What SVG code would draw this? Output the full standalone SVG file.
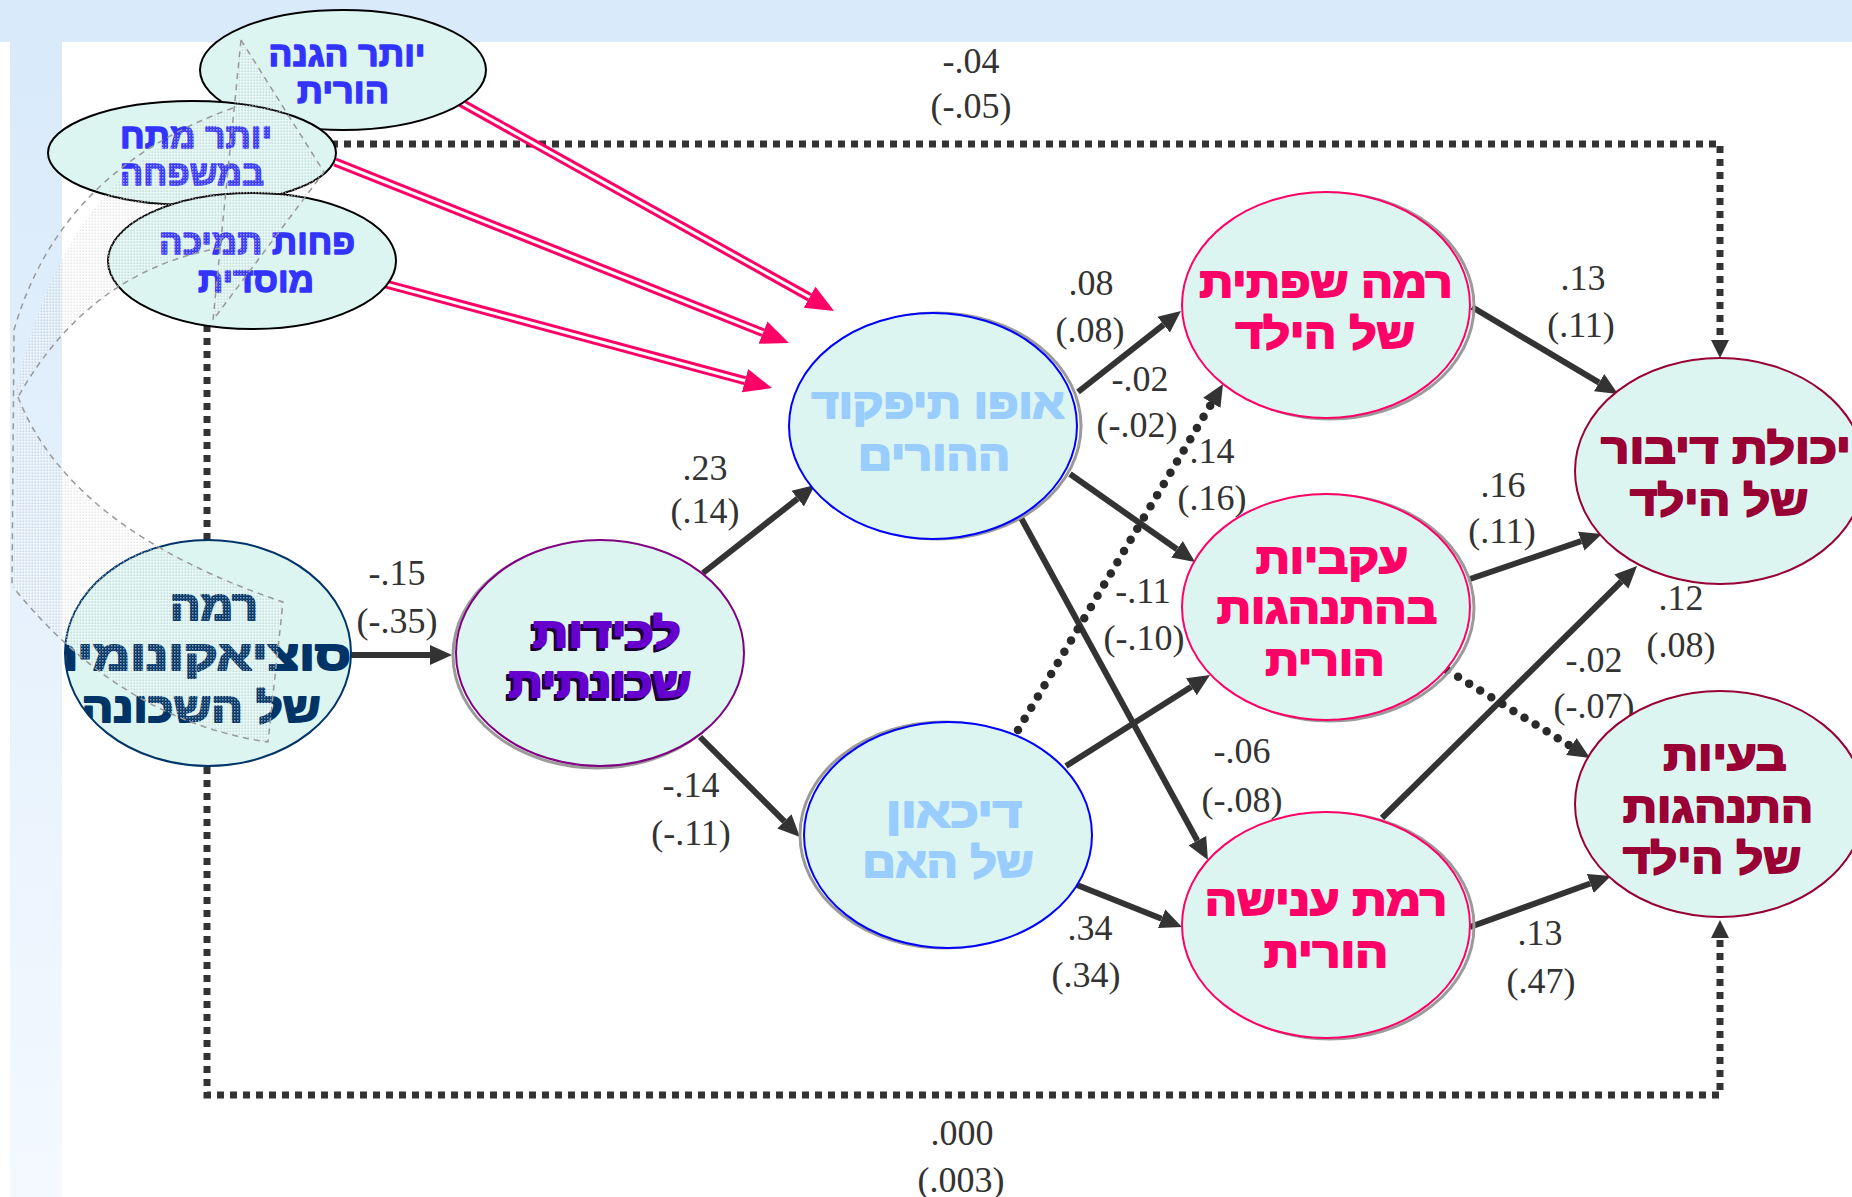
<svg xmlns="http://www.w3.org/2000/svg" width="1852" height="1197" viewBox="0 0 1852 1197">
<defs>
<style>
.node{fill:#dcf5f1;stroke-width:2}
.sm{font-family:"Liberation Sans","DejaVu Sans",sans-serif;font-weight:bold;font-size:34px;fill:#3333ff;stroke:#3333ff;stroke-width:1.4px;stroke-linejoin:round;text-anchor:middle}
.bt{font-family:"Liberation Sans","DejaVu Sans",sans-serif;font-weight:bold;font-size:42px;stroke-width:2px;stroke-linejoin:round;text-anchor:middle}
.lbl{font-family:"Liberation Serif","DejaVu Serif",serif;font-size:36px;fill:#333;text-anchor:middle}
.arr{fill:none;stroke:#333;stroke-width:6}
.dot{fill:none;stroke:#2a2a2a;stroke-width:8.5;stroke-linecap:round;stroke-dasharray:0 13}
.frame{fill:none;stroke:#333;stroke-width:7;stroke-dasharray:7 6}
.pk{fill:none;stroke:#ff0066;stroke-width:9}
.pkw{fill:none;stroke:#fff;stroke-width:3}
.deco{fill:none;stroke:#999;stroke-width:1.5;stroke-dasharray:6 5}
.shade{fill:url(#dots);stroke:none}
.halo{fill:none;stroke:#9a9a9a;stroke-width:3}
</style>
<linearGradient id="lg" x1="0" y1="0" x2="0" y2="1">
<stop offset="0" stop-color="#d9eafa"/>
<stop offset="1" stop-color="#f3f9ff"/>
</linearGradient>
<pattern id="dots" width="3" height="3" patternUnits="userSpaceOnUse">
<rect width="1.5" height="1.5" fill="#fff" fill-opacity="0.55"/>
<rect x="1.5" y="1.5" width="1.5" height="1.5" fill="#888" fill-opacity="0.2"/>
</pattern>
<marker id="ah" markerUnits="userSpaceOnUse" markerWidth="24" markerHeight="22" viewBox="0 -11 24 22" refX="0" refY="0" orient="auto"><path d="M0,-10 L22,0 L0,10 z" fill="#333"/></marker>
<marker id="ahs" markerUnits="userSpaceOnUse" markerWidth="20" markerHeight="20" viewBox="0 -10 20 20" refX="0" refY="0" orient="auto"><path d="M0,-9 L18,0 L0,9 z" fill="#333"/></marker>
<marker id="ahp" markerUnits="userSpaceOnUse" markerWidth="30" markerHeight="26" viewBox="0 -13 30 26" refX="0" refY="0" orient="auto"><path d="M0,-12 L28,0 L0,12 z" fill="#ff0066"/></marker>
<clipPath id="c4"><ellipse cx="208" cy="653" rx="143" ry="113"/></clipPath>
</defs>

<rect width="1852" height="1197" fill="#fff"/>
<rect x="0" y="0" width="1852" height="42" fill="#d9eafa"/>
<rect x="10" y="42" width="52" height="1155" fill="url(#lg)"/>

<g id="connectors">
<path class="frame" d="M207,540 V144 H1720 V340" marker-end="url(#ahs)"/>
<path class="frame" d="M207,767 V1095 H1720 V938" marker-end="url(#ahs)"/>
<path class="pk" d="M458,101 L809.6,297.3" marker-end="url(#ahp)"/>
<path class="pkw" d="M458,101 L809.6,297.3"/>
<path class="pk" d="M335,162 L763,332.6" marker-end="url(#ahp)"/>
<path class="pkw" d="M335,162 L763,332.6"/>
<path class="pk" d="M382,283 L745,380.7" marker-end="url(#ahp)"/>
<path class="pkw" d="M382,283 L745,380.7"/>
<path class="arr" d="M351,655 L430,655" marker-end="url(#ah)"/>
<path class="arr" d="M703,573 L797.7,498.6" marker-end="url(#ah)"/>
<path class="arr" d="M700,737 L784.4,821.4" marker-end="url(#ah)"/>
<path class="arr" d="M1078,392 L1163.7,324.6" marker-end="url(#ah)"/>
<path class="arr" d="M1070,474 L1177,549.3" marker-end="url(#ah)"/>
<path class="arr" d="M1020,516 L1197.4,840.7" marker-end="url(#ah)"/>
<path class="arr" d="M1066,766 L1191.4,686.8" marker-end="url(#ah)"/>
<path class="arr" d="M1077,885 L1161.6,918.8" marker-end="url(#ah)"/>
<path class="dot" d="M1018,730 L1211.8,402.9" marker-end="url(#ah)"/>
<path class="arr" d="M1472,307 L1599.1,382.7" marker-end="url(#ah)"/>
<path class="arr" d="M1470,579 L1581.2,541.1" marker-end="url(#ah)"/>
<path class="arr" d="M1382,818 L1621.4,581.5" marker-end="url(#ah)"/>
<path class="arr" d="M1470,927 L1590.3,883.5" marker-end="url(#ah)"/>
<path class="dot" d="M1447,670 L1571.3,746.5" marker-end="url(#ah)"/>
</g>

<g id="labels">
<text class="lbl" x="971" y="73">-.04</text>
<text class="lbl" x="971" y="118">(-.05)</text>
<text class="lbl" x="1091" y="295">.08</text>
<text class="lbl" x="1090" y="342">(.08)</text>
<text class="lbl" x="1140" y="391">-.02</text>
<text class="lbl" x="1137" y="437">(-.02)</text>
<text class="lbl" x="1212" y="463">.14</text>
<text class="lbl" x="1212" y="510">(.16)</text>
<text class="lbl" x="1583" y="290">.13</text>
<text class="lbl" x="1581" y="337">(.11)</text>
<text class="lbl" x="705" y="480">.23</text>
<text class="lbl" x="705" y="523">(.14)</text>
<text class="lbl" x="397" y="585">-.15</text>
<text class="lbl" x="397" y="633">(-.35)</text>
<text class="lbl" x="1143" y="603">-.11</text>
<text class="lbl" x="1144" y="650">(-.10)</text>
<text class="lbl" x="1503" y="497">.16</text>
<text class="lbl" x="1502" y="543">(.11)</text>
<text class="lbl" x="1681" y="610">.12</text>
<text class="lbl" x="1681" y="657">(.08)</text>
<text class="lbl" x="1594" y="672">-.02</text>
<text class="lbl" x="1594" y="718">(-.07)</text>
<text class="lbl" x="1242" y="763">-.06</text>
<text class="lbl" x="1242" y="812">(-.08)</text>
<text class="lbl" x="691" y="797">-.14</text>
<text class="lbl" x="691" y="845">(-.11)</text>
<text class="lbl" x="1090" y="940">.34</text>
<text class="lbl" x="1086" y="987">(.34)</text>
<text class="lbl" x="1540" y="945">.13</text>
<text class="lbl" x="1541" y="993">(.47)</text>
<text class="lbl" x="962" y="1145">.000</text>
<text class="lbl" x="961" y="1192">(.003)</text>
</g>

<g id="n-hagana">
<ellipse class="node" cx="343" cy="70" rx="143" ry="60" stroke="#000"/>
<text class="sm" x="347" y="66" textLength="157" lengthAdjust="spacingAndGlyphs">יותר הגנה</text>
<text class="sm" x="343" y="103" textLength="92" lengthAdjust="spacingAndGlyphs">הורית</text>
</g>
<g id="n-metach">
<ellipse class="node" cx="192" cy="153" rx="144" ry="52" stroke="#000"/>
<text class="sm" x="196" y="148" textLength="152" lengthAdjust="spacingAndGlyphs">יותר מתח</text>
<text class="sm" x="192" y="185" textLength="144" lengthAdjust="spacingAndGlyphs">במשפחה</text>
</g>
<g id="n-tmicha">
<ellipse class="node" cx="252" cy="261" rx="144" ry="68" stroke="#000"/>
<text class="sm" x="257" y="254" textLength="196" lengthAdjust="spacingAndGlyphs">פחות תמיכה</text>
<text class="sm" x="256" y="292" textLength="116" lengthAdjust="spacingAndGlyphs">מוסדית</text>
</g>

<g id="n-ses">
<ellipse class="node" cx="208" cy="653" rx="143" ry="113" stroke="#003366"/>
<g clip-path="url(#c4)" fill="#003366" stroke="#003366">
<text class="bt" x="214" y="620" textLength="88" lengthAdjust="spacingAndGlyphs">רמה</text>
<text class="bt" x="196" y="670" textLength="310" lengthAdjust="spacingAndGlyphs">סוציאקונומית</text>
<text class="bt" x="201" y="722" textLength="239" lengthAdjust="spacingAndGlyphs">של השכונה</text>
</g>
</g>

<g id="n-lechidut">
<ellipse class="halo" cx="597" cy="655" rx="144" ry="113"/>
<ellipse class="node" cx="600" cy="653" rx="144" ry="113" stroke="#800080"/>
<g fill="#1a0033" stroke="#1a0033">
<text class="bt" x="604" y="650" textLength="148" lengthAdjust="spacingAndGlyphs">לכידות</text>
<text class="bt" x="597" y="700" textLength="183" lengthAdjust="spacingAndGlyphs">שכונתית</text>
</g>
<g fill="#6600cc" stroke="#6600cc">
<text class="bt" x="607" y="647" textLength="148" lengthAdjust="spacingAndGlyphs">לכידות</text>
<text class="bt" x="600" y="697" textLength="183" lengthAdjust="spacingAndGlyphs">שכונתית</text>
</g>
</g>

<g id="n-tifkud">
<ellipse class="halo" cx="937" cy="426" rx="144" ry="113"/>
<ellipse class="node" cx="933" cy="426" rx="144" ry="113" stroke="#0000ff"/>
<g fill="#99ccff" stroke="#99ccff">
<text class="bt" x="938" y="418" textLength="253" lengthAdjust="spacingAndGlyphs">אופו תיפקוד</text>
<text class="bt" x="934" y="470" textLength="152" lengthAdjust="spacingAndGlyphs">ההורים</text>
</g>
</g>

<g id="n-dikaon">
<ellipse class="halo" cx="944" cy="835" rx="144" ry="113"/>
<ellipse class="node" cx="948" cy="835" rx="144" ry="113" stroke="#0000ff"/>
<g fill="#99ccff" stroke="#99ccff">
<text class="bt" x="954" y="827" textLength="136" lengthAdjust="spacingAndGlyphs">דיכאון</text>
<text class="bt" x="948" y="877" textLength="171" lengthAdjust="spacingAndGlyphs">של האם</text>
</g>
</g>

<g id="n-safa">
<ellipse class="halo" cx="1330" cy="306" rx="144" ry="113"/>
<ellipse class="node" cx="1326" cy="305" rx="144" ry="113" stroke="#ff0066"/>
<g fill="#ff0066" stroke="#ff0066">
<text class="bt" x="1326" y="297" textLength="253" lengthAdjust="spacingAndGlyphs">רמה שפתית</text>
<text class="bt" x="1325" y="348" textLength="179" lengthAdjust="spacingAndGlyphs">של הילד</text>
</g>
</g>

<g id="n-akviut">
<ellipse class="halo" cx="1330" cy="608" rx="144" ry="113"/>
<ellipse class="node" cx="1326" cy="607" rx="144" ry="113" stroke="#ff0066"/>
<g fill="#ff0066" stroke="#ff0066">
<text class="bt" x="1332" y="573" textLength="152" lengthAdjust="spacingAndGlyphs">עקביות</text>
<text class="bt" x="1327" y="623" textLength="220" lengthAdjust="spacingAndGlyphs">בהתנהגות</text>
<text class="bt" x="1325" y="675" textLength="119" lengthAdjust="spacingAndGlyphs">הורית</text>
</g>
</g>

<g id="n-anisha">
<ellipse class="halo" cx="1330" cy="926" rx="144" ry="113"/>
<ellipse class="node" cx="1326" cy="925" rx="144" ry="113" stroke="#ff0066"/>
<g fill="#ff0066" stroke="#ff0066">
<text class="bt" x="1326" y="915" textLength="242" lengthAdjust="spacingAndGlyphs">רמת ענישה</text>
<text class="bt" x="1326" y="967" textLength="124" lengthAdjust="spacingAndGlyphs">הורית</text>
</g>
</g>

<g id="n-dibur">
<ellipse class="node" cx="1720" cy="471" rx="145" ry="113" stroke="#990033"/>
<g fill="#990033" stroke="#990033">
<text class="bt" x="1726" y="463" textLength="250" lengthAdjust="spacingAndGlyphs">יכולת דיבור</text>
<text class="bt" x="1719" y="515" textLength="178" lengthAdjust="spacingAndGlyphs">של הילד</text>
</g>
</g>

<g id="n-beayot">
<ellipse class="node" cx="1720" cy="804" rx="145" ry="113" stroke="#990033"/>
<g fill="#990033" stroke="#990033">
<text class="bt" x="1725" y="770" textLength="123" lengthAdjust="spacingAndGlyphs">בעיות</text>
<text class="bt" x="1718" y="822" textLength="190" lengthAdjust="spacingAndGlyphs">התנהגות</text>
<text class="bt" x="1712" y="873" textLength="178" lengthAdjust="spacingAndGlyphs">של הילד</text>
</g>
</g>

<g id="decor">
<path class="shade" d="M241,40 L324,172 L213,320 Z"/>
<path class="shade" d="M233,108 Q60,170 14,400 Q90,270 221,248 Z"/>
<path class="shade" d="M18,397 Q70,530 283,602 L268,742 Q120,720 13,587 Z"/>
<path class="deco" d="M241,40 L324,172 L213,320 Z"/>
<path class="deco" d="M233,108 Q60,170 14,330 L12,587"/>
<path class="deco" d="M221,248 Q90,270 18,397"/>
<path class="deco" d="M18,397 Q70,530 283,602 L268,742 Q120,720 13,587"/>
</g>
</svg>
